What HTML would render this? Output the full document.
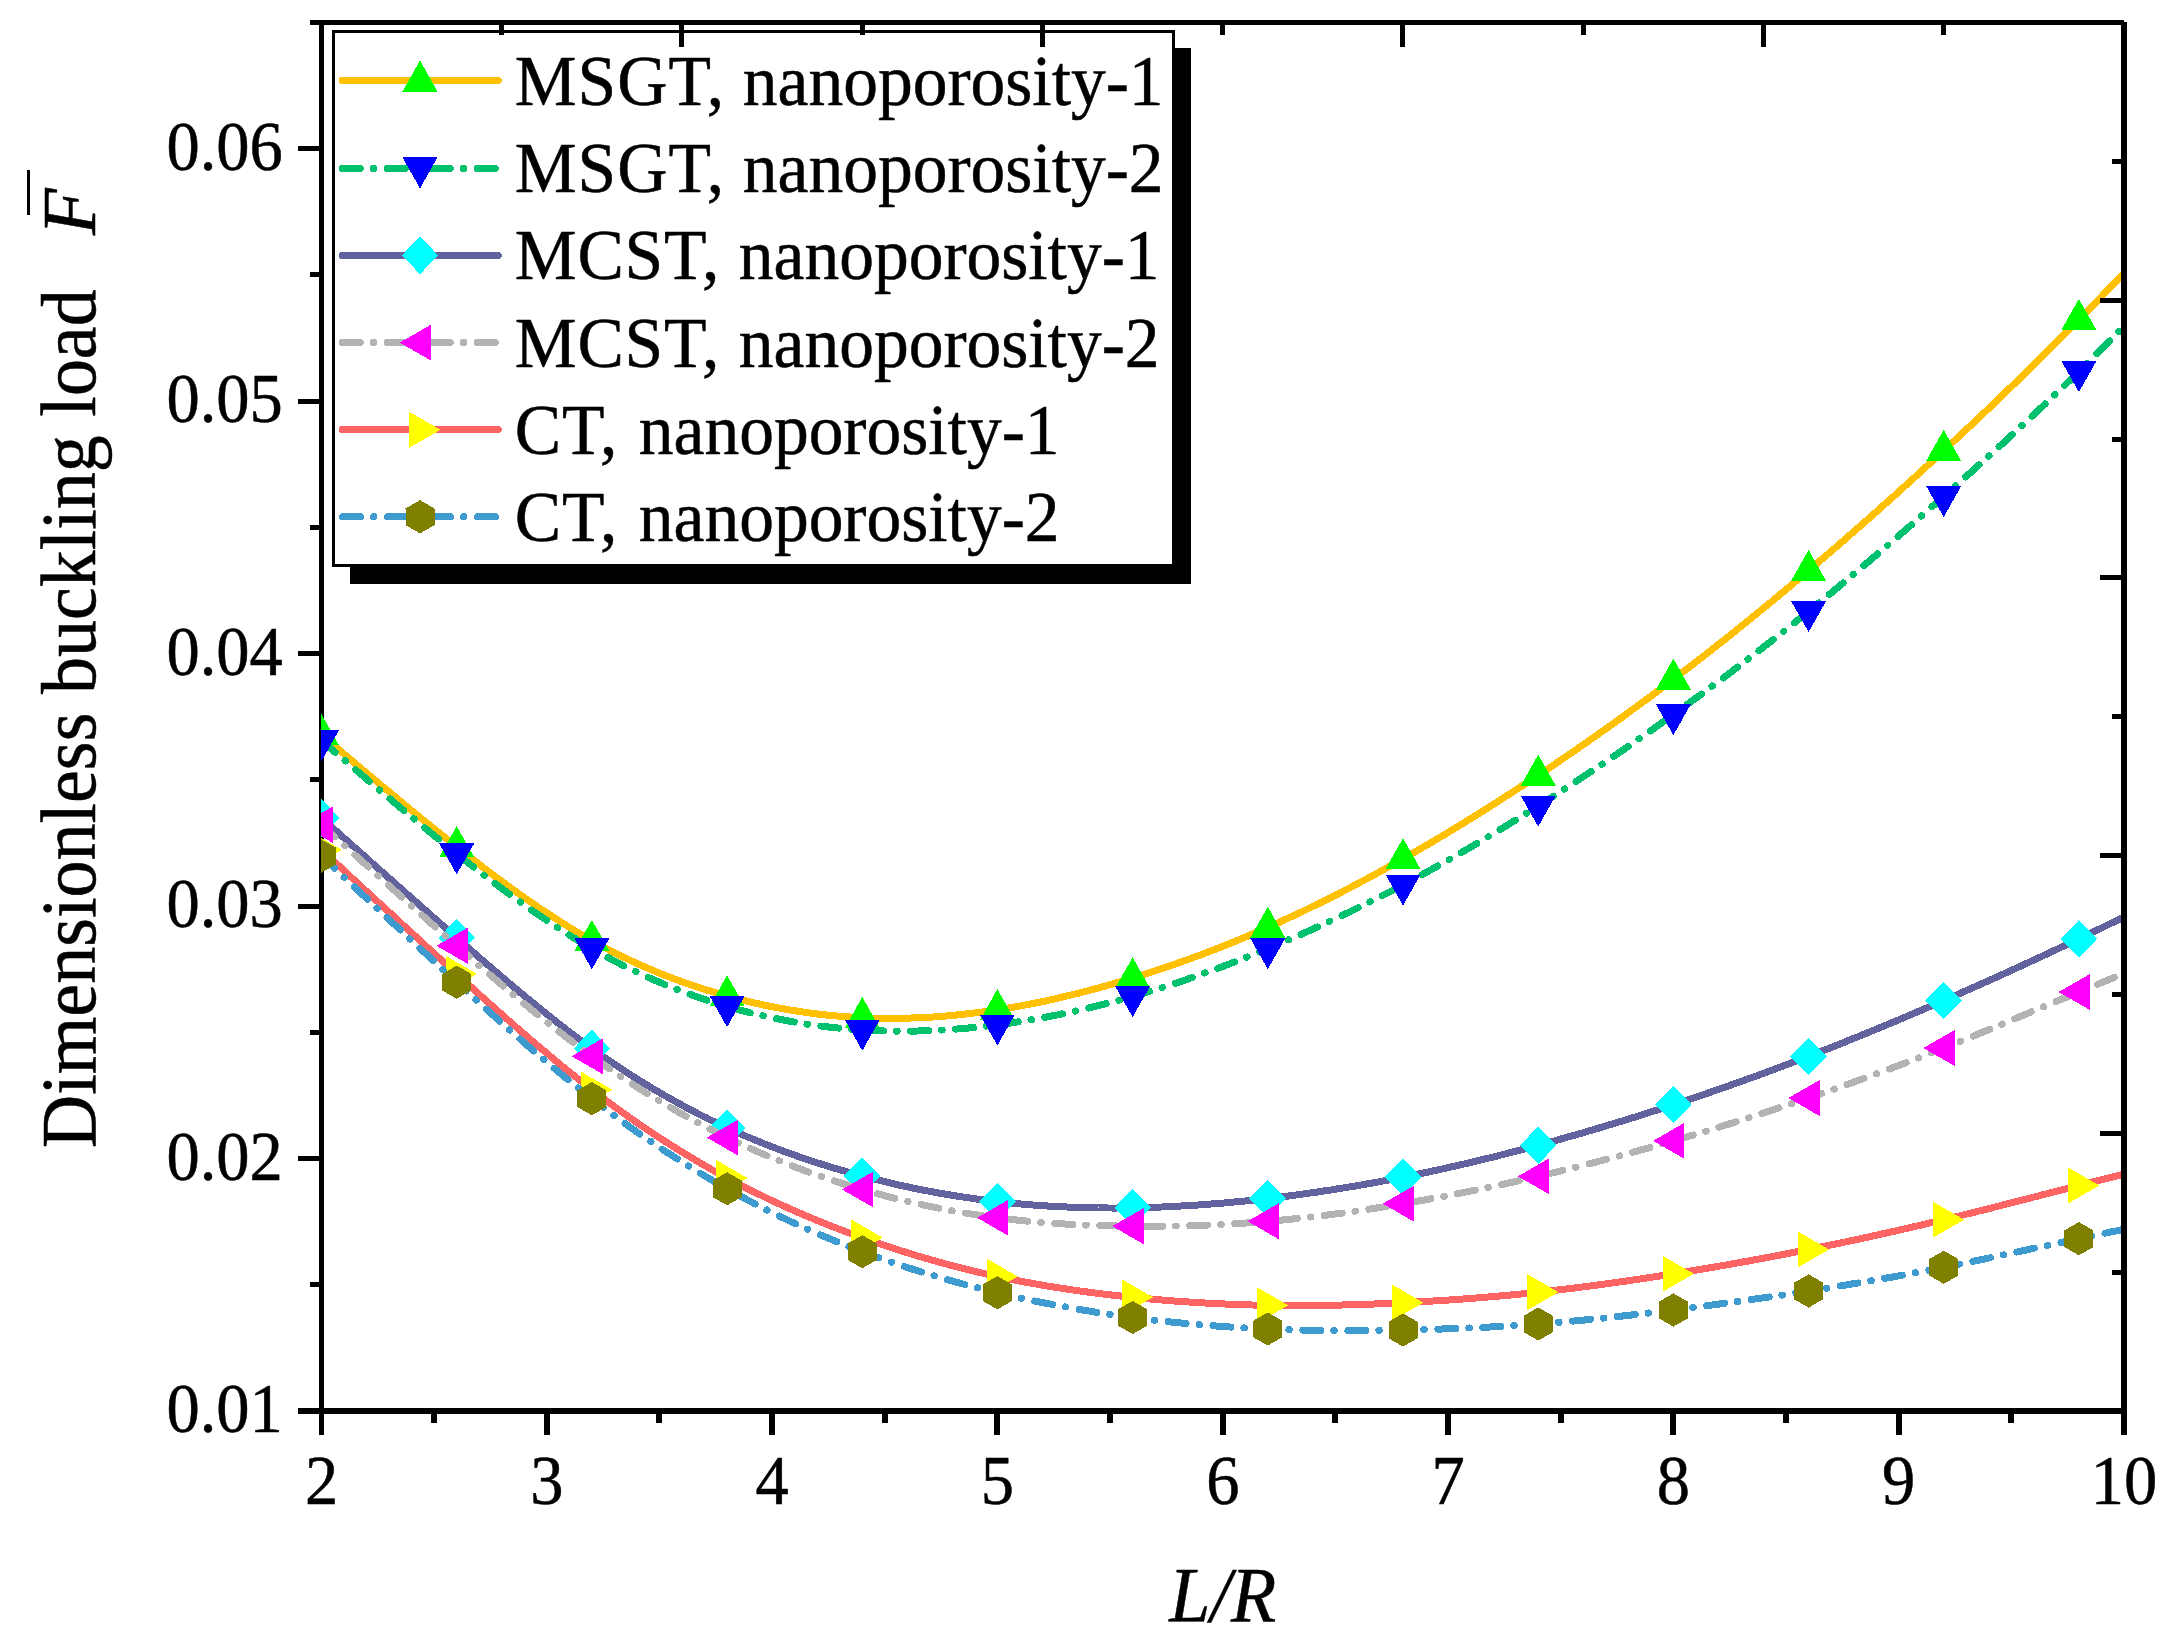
<!DOCTYPE html>
<html lang="en"><head><meta charset="utf-8"><title>Dimensionless buckling load vs L/R</title>
<style>html,body{margin:0;padding:0;background:#fff}svg{display:block}text{font-family:'Liberation Serif',serif;fill:#000;stroke:#000;stroke-width:0.50px;stroke-linejoin:round}</style></head><body>
<svg width="2174" height="1646" viewBox="0 0 2174 1646" shape-rendering="crispEdges">
<rect width="2174" height="1646" fill="#fff"/>
<g id="legend">
<rect x="350" y="48" width="840.6" height="535.8" fill="#000"/>
<rect x="333.5" y="31.5" width="840.0" height="534.0" fill="#fff" stroke="#000" stroke-width="3.0"/>
<line x1="342.4" y1="80.5" x2="498.2" y2="80.5" stroke="#FFC000" stroke-width="7.0" stroke-linecap="round"/>
<polygon points="420.0,60.5 402.5,91.5 437.5,91.5" fill="#00FF00"/>
<text transform="translate(514.8,104.9) scale(1,1.030)" font-size="69.5"><tspan letter-spacing="1.00">MSGT,</tspan> <tspan x="228.0">nanoporosity-1</tspan></text>
<line x1="342.4" y1="168.5" x2="498.2" y2="168.5" stroke="#00C26E" stroke-width="7.0" stroke-linecap="round" stroke-dasharray="18 13 0.5 13.5"/>
<polygon points="420.0,188.4 402.5,157.4 437.5,157.4" fill="#0000FF"/>
<text transform="translate(514.8,192.1) scale(1,1.030)" font-size="69.5"><tspan letter-spacing="1.00">MSGT,</tspan> <tspan x="228.0">nanoporosity-2</tspan></text>
<line x1="342.4" y1="255.5" x2="498.2" y2="255.5" stroke="#62629E" stroke-width="7.0" stroke-linecap="round"/>
<polygon points="420.0,236.7 438.3,255.4 420.0,274.1 401.7,255.4" fill="#00FFFF"/>
<text transform="translate(514.8,279.3) scale(1,1.030)" font-size="69.5"><tspan letter-spacing="0.80">MCST,</tspan> <tspan x="224.0">nanoporosity-1</tspan></text>
<line x1="342.4" y1="342.5" x2="498.2" y2="342.5" stroke="#B3B3B3" stroke-width="7.0" stroke-linecap="round" stroke-dasharray="18 13 0.5 13.5"/>
<polygon points="399.7,342.6 431.0,324.6 431.0,360.6" fill="#FF00FF"/>
<text transform="translate(514.8,366.5) scale(1,1.030)" font-size="69.5"><tspan letter-spacing="0.80">MCST,</tspan> <tspan x="224.0">nanoporosity-2</tspan></text>
<line x1="342.4" y1="429.5" x2="498.2" y2="429.5" stroke="#FF6464" stroke-width="7.0" stroke-linecap="round"/>
<polygon points="440.4,429.8 409.1,411.7 409.1,447.9" fill="#FFFF00"/>
<text transform="translate(514.8,453.7) scale(1,1.030)" font-size="69.5"><tspan letter-spacing="0.80">CT,</tspan> <tspan x="124.0">nanoporosity-1</tspan></text>
<line x1="342.4" y1="516.7" x2="498.2" y2="516.7" stroke="#3E9BD0" stroke-width="7.0" stroke-linecap="round" stroke-dasharray="18 13 0.5 13.5"/>
<polygon points="420.0,500.2 434.5,508.5 434.5,525.1 420.0,533.4 405.5,525.1 405.5,508.5" fill="#808000"/>
<text transform="translate(514.8,540.9) scale(1,1.030)" font-size="69.5"><tspan letter-spacing="0.80">CT,</tspan> <tspan x="124.0">nanoporosity-2</tspan></text>
</g>
<g id="axes-lb" stroke="#000" fill="none">
<line x1="321.50" y1="20.00" x2="321.50" y2="1435.00" stroke-width="5"/>
<line x1="298.00" y1="1411.00" x2="2127.00" y2="1411.00" stroke-width="6"/>
<line x1="434.16" y1="1411.00" x2="434.16" y2="1423.00" stroke-width="6"/>
<line x1="546.81" y1="1411.00" x2="546.81" y2="1435.00" stroke-width="6"/>
<line x1="659.47" y1="1411.00" x2="659.47" y2="1423.00" stroke-width="6"/>
<line x1="772.12" y1="1411.00" x2="772.12" y2="1435.00" stroke-width="6"/>
<line x1="884.78" y1="1411.00" x2="884.78" y2="1423.00" stroke-width="6"/>
<line x1="997.44" y1="1411.00" x2="997.44" y2="1435.00" stroke-width="6"/>
<line x1="1110.09" y1="1411.00" x2="1110.09" y2="1423.00" stroke-width="6"/>
<line x1="1222.75" y1="1411.00" x2="1222.75" y2="1435.00" stroke-width="6"/>
<line x1="1335.41" y1="1411.00" x2="1335.41" y2="1423.00" stroke-width="6"/>
<line x1="1448.06" y1="1411.00" x2="1448.06" y2="1435.00" stroke-width="6"/>
<line x1="1560.72" y1="1411.00" x2="1560.72" y2="1423.00" stroke-width="6"/>
<line x1="1673.38" y1="1411.00" x2="1673.38" y2="1435.00" stroke-width="6"/>
<line x1="1786.03" y1="1411.00" x2="1786.03" y2="1423.00" stroke-width="6"/>
<line x1="1898.69" y1="1411.00" x2="1898.69" y2="1435.00" stroke-width="6"/>
<line x1="2011.34" y1="1411.00" x2="2011.34" y2="1423.00" stroke-width="6"/>
<line x1="310.00" y1="1284.77" x2="321.50" y2="1284.77" stroke-width="5"/>
<line x1="298.00" y1="1158.55" x2="321.50" y2="1158.55" stroke-width="5"/>
<line x1="310.00" y1="1032.32" x2="321.50" y2="1032.32" stroke-width="5"/>
<line x1="298.00" y1="906.09" x2="321.50" y2="906.09" stroke-width="5"/>
<line x1="310.00" y1="779.86" x2="321.50" y2="779.86" stroke-width="5"/>
<line x1="298.00" y1="653.64" x2="321.50" y2="653.64" stroke-width="5"/>
<line x1="310.00" y1="527.41" x2="321.50" y2="527.41" stroke-width="5"/>
<line x1="298.00" y1="401.18" x2="321.50" y2="401.18" stroke-width="5"/>
<line x1="310.00" y1="274.95" x2="321.50" y2="274.95" stroke-width="5"/>
<line x1="298.00" y1="148.73" x2="321.50" y2="148.73" stroke-width="5"/>
</g>
<defs><clipPath id="pc"><rect x="321" y="22.5" width="1803.0" height="1388.5"/></clipPath></defs>
<g id="curves" clip-path="url(#pc)">
<path d="M321.5 735.0 L326.0 738.8 L330.5 742.6 L335.1 746.5 L339.6 750.3 L344.1 754.1 L348.6 757.9 L353.1 761.7 L357.6 765.5 L362.2 769.3 L366.7 773.1 L371.2 776.9 L375.7 780.7 L380.2 784.5 L384.7 788.3 L389.3 792.0 L393.8 795.8 L398.3 799.5 L402.8 803.2 L407.3 807.0 L411.9 810.7 L416.4 814.4 L420.9 818.1 L425.4 821.7 L429.9 825.4 L434.4 829.1 L439.0 832.7 L443.5 836.3 L448.0 839.9 L452.5 843.5 L457.0 847.1 L461.5 850.6 L466.1 854.2 L470.6 857.7 L475.1 861.2 L479.6 864.6 L484.1 868.1 L488.6 871.5 L493.2 874.9 L497.7 878.3 L502.2 881.6 L506.7 884.9 L511.2 888.2 L515.8 891.5 L520.3 894.7 L524.8 897.9 L529.3 901.0 L533.8 904.2 L538.3 907.3 L542.9 910.3 L547.4 913.3 L551.9 916.3 L556.4 919.2 L560.9 922.1 L565.4 924.9 L570.0 927.7 L574.5 930.5 L579.0 933.2 L583.5 935.8 L588.0 938.4 L592.6 941.0 L597.1 943.5 L601.6 945.9 L606.1 948.3 L610.6 950.7 L615.1 953.0 L619.7 955.3 L624.2 957.5 L628.7 959.6 L633.2 961.7 L637.7 963.8 L642.2 965.8 L646.8 967.8 L651.3 969.7 L655.8 971.6 L660.3 973.5 L664.8 975.3 L669.4 977.0 L673.9 978.8 L678.4 980.4 L682.9 982.1 L687.4 983.7 L691.9 985.2 L696.5 986.7 L701.0 988.2 L705.5 989.6 L710.0 991.0 L714.5 992.4 L719.0 993.7 L723.6 995.0 L728.1 996.3 L732.6 997.5 L737.1 998.7 L741.6 999.8 L746.1 1001.0 L750.7 1002.0 L755.2 1003.1 L759.7 1004.1 L764.2 1005.1 L768.7 1006.0 L773.3 1006.9 L777.8 1007.8 L782.3 1008.6 L786.8 1009.4 L791.3 1010.2 L795.8 1010.9 L800.4 1011.6 L804.9 1012.3 L809.4 1012.9 L813.9 1013.5 L818.4 1014.1 L822.9 1014.6 L827.5 1015.1 L832.0 1015.5 L836.5 1016.0 L841.0 1016.3 L845.5 1016.7 L850.1 1017.0 L854.6 1017.3 L859.1 1017.5 L863.6 1017.8 L868.1 1017.9 L872.6 1018.1 L877.2 1018.2 L881.7 1018.3 L886.2 1018.3 L890.7 1018.4 L895.2 1018.3 L899.7 1018.3 L904.3 1018.2 L908.8 1018.1 L913.3 1017.9 L917.8 1017.8 L922.3 1017.6 L926.9 1017.3 L931.4 1017.1 L935.9 1016.8 L940.4 1016.4 L944.9 1016.1 L949.4 1015.7 L954.0 1015.3 L958.5 1014.8 L963.0 1014.3 L967.5 1013.8 L972.0 1013.3 L976.5 1012.7 L981.1 1012.2 L985.6 1011.5 L990.1 1010.9 L994.6 1010.2 L999.1 1009.5 L1003.6 1008.8 L1008.2 1008.1 L1012.7 1007.3 L1017.2 1006.5 L1021.7 1005.7 L1026.2 1004.8 L1030.8 1003.9 L1035.3 1003.0 L1039.8 1002.1 L1044.3 1001.2 L1048.8 1000.2 L1053.3 999.2 L1057.9 998.2 L1062.4 997.1 L1066.9 996.0 L1071.4 994.9 L1075.9 993.8 L1080.4 992.7 L1085.0 991.5 L1089.5 990.4 L1094.0 989.1 L1098.5 987.9 L1103.0 986.7 L1107.6 985.4 L1112.1 984.1 L1116.6 982.8 L1121.1 981.5 L1125.6 980.1 L1130.1 978.8 L1134.7 977.4 L1139.2 976.0 L1143.7 974.5 L1148.2 973.1 L1152.7 971.6 L1157.2 970.1 L1161.8 968.6 L1166.3 967.1 L1170.8 965.5 L1175.3 964.0 L1179.8 962.4 L1184.4 960.8 L1188.9 959.2 L1193.4 957.5 L1197.9 955.8 L1202.4 954.2 L1206.9 952.4 L1211.5 950.7 L1216.0 949.0 L1220.5 947.2 L1225.0 945.4 L1229.5 943.6 L1234.0 941.8 L1238.6 939.9 L1243.1 938.0 L1247.6 936.1 L1252.1 934.2 L1256.6 932.3 L1261.1 930.3 L1265.7 928.3 L1270.2 926.3 L1274.7 924.3 L1279.2 922.3 L1283.7 920.2 L1288.3 918.1 L1292.8 916.0 L1297.3 913.9 L1301.8 911.8 L1306.3 909.6 L1310.8 907.4 L1315.4 905.2 L1319.9 903.0 L1324.4 900.7 L1328.9 898.5 L1333.4 896.2 L1337.9 893.9 L1342.5 891.6 L1347.0 889.3 L1351.5 886.9 L1356.0 884.5 L1360.5 882.1 L1365.1 879.7 L1369.6 877.3 L1374.1 874.9 L1378.6 872.4 L1383.1 869.9 L1387.6 867.4 L1392.2 864.9 L1396.7 862.4 L1401.2 859.8 L1405.7 857.3 L1410.2 854.7 L1414.7 852.1 L1419.3 849.5 L1423.8 846.8 L1428.3 844.2 L1432.8 841.5 L1437.3 838.9 L1441.9 836.2 L1446.4 833.5 L1450.9 830.7 L1455.4 828.0 L1459.9 825.3 L1464.4 822.5 L1469.0 819.7 L1473.5 816.9 L1478.0 814.1 L1482.5 811.3 L1487.0 808.4 L1491.5 805.6 L1496.1 802.7 L1500.6 799.8 L1505.1 796.9 L1509.6 794.0 L1514.1 791.1 L1518.6 788.2 L1523.2 785.2 L1527.7 782.2 L1532.2 779.3 L1536.7 776.3 L1541.2 773.3 L1545.8 770.3 L1550.3 767.2 L1554.8 764.2 L1559.3 761.1 L1563.8 758.0 L1568.3 755.0 L1572.9 751.9 L1577.4 748.8 L1581.9 745.6 L1586.4 742.5 L1590.9 739.3 L1595.4 736.2 L1600.0 733.0 L1604.5 729.8 L1609.0 726.6 L1613.5 723.4 L1618.0 720.1 L1622.6 716.9 L1627.1 713.6 L1631.6 710.3 L1636.1 707.0 L1640.6 703.7 L1645.1 700.4 L1649.7 697.1 L1654.2 693.7 L1658.7 690.3 L1663.2 687.0 L1667.7 683.6 L1672.2 680.2 L1676.8 676.7 L1681.3 673.3 L1685.8 669.8 L1690.3 666.4 L1694.8 662.9 L1699.4 659.4 L1703.9 655.9 L1708.4 652.3 L1712.9 648.8 L1717.4 645.2 L1721.9 641.7 L1726.5 638.1 L1731.0 634.5 L1735.5 630.9 L1740.0 627.2 L1744.5 623.6 L1749.0 620.0 L1753.6 616.3 L1758.1 612.6 L1762.6 608.9 L1767.1 605.2 L1771.6 601.5 L1776.1 597.8 L1780.7 594.0 L1785.2 590.3 L1789.7 586.5 L1794.2 582.7 L1798.7 578.9 L1803.3 575.1 L1807.8 571.3 L1812.3 567.4 L1816.8 563.6 L1821.3 559.7 L1825.8 555.9 L1830.4 552.0 L1834.9 548.1 L1839.4 544.2 L1843.9 540.3 L1848.4 536.3 L1852.9 532.4 L1857.5 528.4 L1862.0 524.5 L1866.5 520.5 L1871.0 516.5 L1875.5 512.5 L1880.1 508.5 L1884.6 504.4 L1889.1 500.4 L1893.6 496.4 L1898.1 492.3 L1902.6 488.2 L1907.2 484.1 L1911.7 480.0 L1916.2 475.9 L1920.7 471.8 L1925.2 467.7 L1929.7 463.5 L1934.3 459.4 L1938.8 455.2 L1943.3 451.0 L1947.8 446.8 L1952.3 442.6 L1956.9 438.4 L1961.4 434.2 L1965.9 429.9 L1970.4 425.7 L1974.9 421.4 L1979.4 417.2 L1984.0 412.9 L1988.5 408.6 L1993.0 404.3 L1997.5 399.9 L2002.0 395.6 L2006.5 391.2 L2011.1 386.9 L2015.6 382.5 L2020.1 378.1 L2024.6 373.7 L2029.1 369.3 L2033.6 364.9 L2038.2 360.4 L2042.7 355.9 L2047.2 351.5 L2051.7 347.0 L2056.2 342.5 L2060.8 337.9 L2065.3 333.4 L2069.8 328.9 L2074.3 324.3 L2078.8 319.7 L2083.3 315.1 L2087.9 310.5 L2092.4 305.9 L2096.9 301.2 L2101.4 296.6 L2105.9 292.0 L2110.4 287.3 L2115.0 282.6 L2119.5 278.0 L2124.0 273.3" fill="none" stroke="#FFC000" stroke-width="7.0" stroke-linecap="round" stroke-linejoin="round"/>
<polygon points="321.5,714.3 304.0,745.3 339.0,745.3" fill="#00FF00"/>
<polygon points="456.7,826.1 439.2,857.1 474.2,857.1" fill="#00FF00"/>
<polygon points="591.9,919.9 574.4,950.9 609.4,950.9" fill="#00FF00"/>
<polygon points="727.1,975.3 709.6,1006.3 744.6,1006.3" fill="#00FF00"/>
<polygon points="862.3,997.0 844.8,1028.0 879.8,1028.0" fill="#00FF00"/>
<polygon points="997.4,989.1 979.9,1020.1 1014.9,1020.1" fill="#00FF00"/>
<polygon points="1132.6,957.3 1115.1,988.3 1150.1,988.3" fill="#00FF00"/>
<polygon points="1267.8,906.7 1250.3,937.7 1285.3,937.7" fill="#00FF00"/>
<polygon points="1403.0,838.1 1385.5,869.1 1420.5,869.1" fill="#00FF00"/>
<polygon points="1538.2,754.6 1520.7,785.6 1555.7,785.6" fill="#00FF00"/>
<polygon points="1673.4,658.6 1655.9,689.6 1690.9,689.6" fill="#00FF00"/>
<polygon points="1808.6,549.9 1791.1,580.9 1826.1,580.9" fill="#00FF00"/>
<polygon points="1943.7,429.9 1926.2,460.9 1961.2,460.9" fill="#00FF00"/>
<polygon points="2078.9,298.9 2061.4,329.9 2096.4,329.9" fill="#00FF00"/>
<path d="M321.5 740.5 L326.0 744.4 L330.5 748.3 L335.1 752.1 L339.6 756.0 L344.1 759.9 L348.6 763.7 L353.1 767.6 L357.6 771.5 L362.2 775.3 L366.7 779.2 L371.2 783.0 L375.7 786.8 L380.2 790.7 L384.7 794.5 L389.3 798.3 L393.8 802.1 L398.3 805.9 L402.8 809.7 L407.3 813.4 L411.9 817.2 L416.4 820.9 L420.9 824.7 L425.4 828.4 L429.9 832.1 L434.4 835.8 L439.0 839.4 L443.5 843.1 L448.0 846.7 L452.5 850.4 L457.0 854.0 L461.5 857.6 L466.1 861.1 L470.6 864.7 L475.1 868.2 L479.6 871.7 L484.1 875.2 L488.6 878.6 L493.2 882.1 L497.7 885.5 L502.2 888.8 L506.7 892.2 L511.2 895.5 L515.8 898.8 L520.3 902.0 L524.8 905.3 L529.3 908.4 L533.8 911.6 L538.3 914.7 L542.9 917.8 L547.4 920.8 L551.9 923.8 L556.4 926.8 L560.9 929.7 L565.4 932.6 L570.0 935.5 L574.5 938.3 L579.0 941.0 L583.5 943.7 L588.0 946.4 L592.6 949.0 L597.1 951.6 L601.6 954.1 L606.1 956.5 L610.6 959.0 L615.1 961.3 L619.7 963.7 L624.2 966.0 L628.7 968.2 L633.2 970.4 L637.7 972.5 L642.2 974.6 L646.8 976.7 L651.3 978.7 L655.8 980.7 L660.3 982.6 L664.8 984.5 L669.4 986.4 L673.9 988.2 L678.4 989.9 L682.9 991.7 L687.4 993.3 L691.9 995.0 L696.5 996.6 L701.0 998.1 L705.5 999.7 L710.0 1001.1 L714.5 1002.6 L719.0 1004.0 L723.6 1005.4 L728.1 1006.7 L732.6 1008.0 L737.1 1009.2 L741.6 1010.5 L746.1 1011.7 L750.7 1012.8 L755.2 1013.9 L759.7 1015.0 L764.2 1016.0 L768.7 1017.0 L773.3 1018.0 L777.8 1018.9 L782.3 1019.8 L786.8 1020.7 L791.3 1021.5 L795.8 1022.3 L800.4 1023.1 L804.9 1023.8 L809.4 1024.5 L813.9 1025.1 L818.4 1025.7 L822.9 1026.3 L827.5 1026.9 L832.0 1027.4 L836.5 1027.9 L841.0 1028.3 L845.5 1028.7 L850.1 1029.1 L854.6 1029.5 L859.1 1029.8 L863.6 1030.1 L868.1 1030.3 L872.6 1030.6 L877.2 1030.7 L881.7 1030.9 L886.2 1031.0 L890.7 1031.1 L895.2 1031.2 L899.7 1031.2 L904.3 1031.2 L908.8 1031.2 L913.3 1031.1 L917.8 1031.0 L922.3 1030.9 L926.9 1030.7 L931.4 1030.6 L935.9 1030.4 L940.4 1030.1 L944.9 1029.9 L949.4 1029.6 L954.0 1029.2 L958.5 1028.9 L963.0 1028.5 L967.5 1028.1 L972.0 1027.7 L976.5 1027.2 L981.1 1026.8 L985.6 1026.2 L990.1 1025.7 L994.6 1025.2 L999.1 1024.6 L1003.6 1024.0 L1008.2 1023.3 L1012.7 1022.7 L1017.2 1022.0 L1021.7 1021.3 L1026.2 1020.6 L1030.8 1019.8 L1035.3 1019.0 L1039.8 1018.2 L1044.3 1017.4 L1048.8 1016.6 L1053.3 1015.7 L1057.9 1014.8 L1062.4 1013.9 L1066.9 1012.9 L1071.4 1011.9 L1075.9 1010.9 L1080.4 1009.9 L1085.0 1008.9 L1089.5 1007.8 L1094.0 1006.7 L1098.5 1005.6 L1103.0 1004.5 L1107.6 1003.3 L1112.1 1002.2 L1116.6 1001.0 L1121.1 999.7 L1125.6 998.5 L1130.1 997.2 L1134.7 995.9 L1139.2 994.6 L1143.7 993.3 L1148.2 991.9 L1152.7 990.5 L1157.2 989.1 L1161.8 987.7 L1166.3 986.2 L1170.8 984.8 L1175.3 983.3 L1179.8 981.8 L1184.4 980.3 L1188.9 978.7 L1193.4 977.1 L1197.9 975.5 L1202.4 973.9 L1206.9 972.3 L1211.5 970.7 L1216.0 969.0 L1220.5 967.3 L1225.0 965.6 L1229.5 963.9 L1234.0 962.2 L1238.6 960.4 L1243.1 958.6 L1247.6 956.8 L1252.1 955.0 L1256.6 953.2 L1261.1 951.3 L1265.7 949.5 L1270.2 947.6 L1274.7 945.7 L1279.2 943.8 L1283.7 941.9 L1288.3 939.9 L1292.8 938.0 L1297.3 936.0 L1301.8 934.0 L1306.3 932.0 L1310.8 930.0 L1315.4 927.9 L1319.9 925.9 L1324.4 923.8 L1328.9 921.7 L1333.4 919.6 L1337.9 917.5 L1342.5 915.3 L1347.0 913.2 L1351.5 911.0 L1356.0 908.8 L1360.5 906.6 L1365.1 904.3 L1369.6 902.1 L1374.1 899.8 L1378.6 897.5 L1383.1 895.2 L1387.6 892.9 L1392.2 890.6 L1396.7 888.2 L1401.2 885.9 L1405.7 883.5 L1410.2 881.1 L1414.7 878.6 L1419.3 876.2 L1423.8 873.7 L1428.3 871.2 L1432.8 868.7 L1437.3 866.2 L1441.9 863.7 L1446.4 861.2 L1450.9 858.6 L1455.4 856.0 L1459.9 853.4 L1464.4 850.8 L1469.0 848.2 L1473.5 845.5 L1478.0 842.9 L1482.5 840.2 L1487.0 837.5 L1491.5 834.8 L1496.1 832.1 L1500.6 829.3 L1505.1 826.6 L1509.6 823.8 L1514.1 821.0 L1518.6 818.2 L1523.2 815.4 L1527.7 812.6 L1532.2 809.8 L1536.7 806.9 L1541.2 804.1 L1545.8 801.2 L1550.3 798.3 L1554.8 795.4 L1559.3 792.5 L1563.8 789.5 L1568.3 786.6 L1572.9 783.6 L1577.4 780.7 L1581.9 777.7 L1586.4 774.7 L1590.9 771.7 L1595.4 768.7 L1600.0 765.6 L1604.5 762.6 L1609.0 759.5 L1613.5 756.4 L1618.0 753.4 L1622.6 750.3 L1627.1 747.1 L1631.6 744.0 L1636.1 740.9 L1640.6 737.7 L1645.1 734.6 L1649.7 731.4 L1654.2 728.2 L1658.7 725.0 L1663.2 721.8 L1667.7 718.6 L1672.2 715.3 L1676.8 712.1 L1681.3 708.8 L1685.8 705.5 L1690.3 702.2 L1694.8 698.9 L1699.4 695.6 L1703.9 692.3 L1708.4 689.0 L1712.9 685.6 L1717.4 682.2 L1721.9 678.9 L1726.5 675.5 L1731.0 672.1 L1735.5 668.6 L1740.0 665.2 L1744.5 661.8 L1749.0 658.3 L1753.6 654.8 L1758.1 651.3 L1762.6 647.8 L1767.1 644.3 L1771.6 640.8 L1776.1 637.3 L1780.7 633.7 L1785.2 630.1 L1789.7 626.5 L1794.2 622.9 L1798.7 619.3 L1803.3 615.7 L1807.8 612.0 L1812.3 608.4 L1816.8 604.7 L1821.3 601.0 L1825.8 597.3 L1830.4 593.6 L1834.9 589.9 L1839.4 586.1 L1843.9 582.4 L1848.4 578.6 L1852.9 574.8 L1857.5 571.0 L1862.0 567.2 L1866.5 563.4 L1871.0 559.5 L1875.5 555.7 L1880.1 551.8 L1884.6 548.0 L1889.1 544.1 L1893.6 540.2 L1898.1 536.3 L1902.6 532.4 L1907.2 528.5 L1911.7 524.5 L1916.2 520.6 L1920.7 516.7 L1925.2 512.7 L1929.7 508.7 L1934.3 504.8 L1938.8 500.8 L1943.3 496.8 L1947.8 492.8 L1952.3 488.8 L1956.9 484.8 L1961.4 480.8 L1965.9 476.7 L1970.4 472.7 L1974.9 468.6 L1979.4 464.6 L1984.0 460.5 L1988.5 456.4 L1993.0 452.3 L1997.5 448.2 L2002.0 444.1 L2006.5 439.9 L2011.1 435.8 L2015.6 431.6 L2020.1 427.4 L2024.6 423.2 L2029.1 419.0 L2033.6 414.8 L2038.2 410.6 L2042.7 406.3 L2047.2 402.0 L2051.7 397.7 L2056.2 393.4 L2060.8 389.1 L2065.3 384.7 L2069.8 380.3 L2074.3 375.9 L2078.8 371.5 L2083.3 367.1 L2087.9 362.6 L2092.4 358.1 L2096.9 353.6 L2101.4 349.1 L2105.9 344.6 L2110.4 340.1 L2115.0 335.6 L2119.5 331.0 L2124.0 326.5" fill="none" stroke="#00C26E" stroke-width="7.0" stroke-linecap="round" stroke-linejoin="round" stroke-dasharray="18 13 0.5 13.5"/>
<polygon points="321.5,761.2 304.0,730.2 339.0,730.2" fill="#0000FF"/>
<polygon points="456.7,874.4 439.2,843.4 474.2,843.4" fill="#0000FF"/>
<polygon points="591.9,969.3 574.4,938.3 609.4,938.3" fill="#0000FF"/>
<polygon points="727.1,1027.1 709.6,996.1 744.6,996.1" fill="#0000FF"/>
<polygon points="862.3,1050.7 844.8,1019.7 879.8,1019.7" fill="#0000FF"/>
<polygon points="997.4,1045.5 979.9,1014.5 1014.9,1014.5" fill="#0000FF"/>
<polygon points="1132.6,1017.2 1115.1,986.2 1150.1,986.2" fill="#0000FF"/>
<polygon points="1267.8,969.3 1250.3,938.3 1285.3,938.3" fill="#0000FF"/>
<polygon points="1403.0,905.6 1385.5,874.6 1420.5,874.6" fill="#0000FF"/>
<polygon points="1538.2,826.7 1520.7,795.7 1555.7,795.7" fill="#0000FF"/>
<polygon points="1673.4,735.2 1655.9,704.2 1690.9,704.2" fill="#0000FF"/>
<polygon points="1808.6,632.1 1791.1,601.1 1826.1,601.1" fill="#0000FF"/>
<polygon points="1943.7,517.1 1926.2,486.1 1961.2,486.1" fill="#0000FF"/>
<polygon points="2078.9,392.1 2061.4,361.1 2096.4,361.1" fill="#0000FF"/>
<path d="M321.5 818.0 L326.0 822.0 L330.5 826.1 L335.1 830.1 L339.6 834.1 L344.1 838.1 L348.6 842.2 L353.1 846.2 L357.6 850.2 L362.2 854.2 L366.7 858.2 L371.2 862.3 L375.7 866.3 L380.2 870.3 L384.7 874.3 L389.3 878.3 L393.8 882.3 L398.3 886.3 L402.8 890.3 L407.3 894.3 L411.9 898.3 L416.4 902.3 L420.9 906.3 L425.4 910.3 L429.9 914.3 L434.4 918.3 L439.0 922.2 L443.5 926.2 L448.0 930.2 L452.5 934.1 L457.0 938.1 L461.5 942.1 L466.1 946.0 L470.6 949.9 L475.1 953.9 L479.6 957.8 L484.1 961.7 L488.6 965.6 L493.2 969.5 L497.7 973.4 L502.2 977.2 L506.7 981.1 L511.2 984.9 L515.8 988.7 L520.3 992.5 L524.8 996.2 L529.3 999.9 L533.8 1003.6 L538.3 1007.3 L542.9 1011.0 L547.4 1014.6 L551.9 1018.2 L556.4 1021.8 L560.9 1025.3 L565.4 1028.8 L570.0 1032.3 L574.5 1035.7 L579.0 1039.1 L583.5 1042.4 L588.0 1045.7 L592.6 1049.0 L597.1 1052.2 L601.6 1055.4 L606.1 1058.5 L610.6 1061.6 L615.1 1064.7 L619.7 1067.7 L624.2 1070.7 L628.7 1073.6 L633.2 1076.5 L637.7 1079.4 L642.2 1082.2 L646.8 1084.9 L651.3 1087.7 L655.8 1090.4 L660.3 1093.0 L664.8 1095.6 L669.4 1098.2 L673.9 1100.7 L678.4 1103.2 L682.9 1105.7 L687.4 1108.1 L691.9 1110.5 L696.5 1112.9 L701.0 1115.2 L705.5 1117.4 L710.0 1119.7 L714.5 1121.9 L719.0 1124.0 L723.6 1126.2 L728.1 1128.3 L732.6 1130.3 L737.1 1132.3 L741.6 1134.3 L746.1 1136.3 L750.7 1138.2 L755.2 1140.1 L759.7 1141.9 L764.2 1143.8 L768.7 1145.5 L773.3 1147.3 L777.8 1149.0 L782.3 1150.7 L786.8 1152.4 L791.3 1154.0 L795.8 1155.6 L800.4 1157.2 L804.9 1158.7 L809.4 1160.3 L813.9 1161.7 L818.4 1163.2 L822.9 1164.6 L827.5 1166.0 L832.0 1167.4 L836.5 1168.8 L841.0 1170.1 L845.5 1171.4 L850.1 1172.7 L854.6 1173.9 L859.1 1175.2 L863.6 1176.4 L868.1 1177.5 L872.6 1178.7 L877.2 1179.8 L881.7 1180.9 L886.2 1182.0 L890.7 1183.1 L895.2 1184.1 L899.7 1185.2 L904.3 1186.2 L908.8 1187.1 L913.3 1188.1 L917.8 1189.0 L922.3 1189.9 L926.9 1190.8 L931.4 1191.6 L935.9 1192.5 L940.4 1193.3 L944.9 1194.1 L949.4 1194.8 L954.0 1195.6 L958.5 1196.3 L963.0 1197.0 L967.5 1197.7 L972.0 1198.3 L976.5 1199.0 L981.1 1199.6 L985.6 1200.2 L990.1 1200.7 L994.6 1201.3 L999.1 1201.8 L1003.6 1202.3 L1008.2 1202.8 L1012.7 1203.2 L1017.2 1203.6 L1021.7 1204.1 L1026.2 1204.4 L1030.8 1204.8 L1035.3 1205.2 L1039.8 1205.5 L1044.3 1205.8 L1048.8 1206.1 L1053.3 1206.3 L1057.9 1206.6 L1062.4 1206.8 L1066.9 1207.0 L1071.4 1207.2 L1075.9 1207.3 L1080.4 1207.5 L1085.0 1207.6 L1089.5 1207.7 L1094.0 1207.8 L1098.5 1207.9 L1103.0 1207.9 L1107.6 1208.0 L1112.1 1208.0 L1116.6 1208.0 L1121.1 1207.9 L1125.6 1207.9 L1130.1 1207.8 L1134.7 1207.8 L1139.2 1207.7 L1143.7 1207.6 L1148.2 1207.4 L1152.7 1207.3 L1157.2 1207.1 L1161.8 1207.0 L1166.3 1206.8 L1170.8 1206.6 L1175.3 1206.3 L1179.8 1206.1 L1184.4 1205.8 L1188.9 1205.6 L1193.4 1205.3 L1197.9 1205.0 L1202.4 1204.7 L1206.9 1204.3 L1211.5 1204.0 L1216.0 1203.6 L1220.5 1203.3 L1225.0 1202.9 L1229.5 1202.5 L1234.0 1202.0 L1238.6 1201.6 L1243.1 1201.2 L1247.6 1200.7 L1252.1 1200.2 L1256.6 1199.8 L1261.1 1199.3 L1265.7 1198.7 L1270.2 1198.2 L1274.7 1197.7 L1279.2 1197.1 L1283.7 1196.6 L1288.3 1196.0 L1292.8 1195.4 L1297.3 1194.8 L1301.8 1194.2 L1306.3 1193.6 L1310.8 1192.9 L1315.4 1192.3 L1319.9 1191.6 L1324.4 1190.9 L1328.9 1190.3 L1333.4 1189.6 L1337.9 1188.8 L1342.5 1188.1 L1347.0 1187.4 L1351.5 1186.6 L1356.0 1185.9 L1360.5 1185.1 L1365.1 1184.3 L1369.6 1183.5 L1374.1 1182.7 L1378.6 1181.9 L1383.1 1181.0 L1387.6 1180.2 L1392.2 1179.3 L1396.7 1178.4 L1401.2 1177.6 L1405.7 1176.7 L1410.2 1175.7 L1414.7 1174.8 L1419.3 1173.9 L1423.8 1172.9 L1428.3 1172.0 L1432.8 1171.0 L1437.3 1170.0 L1441.9 1169.0 L1446.4 1168.0 L1450.9 1167.0 L1455.4 1166.0 L1459.9 1165.0 L1464.4 1163.9 L1469.0 1162.8 L1473.5 1161.8 L1478.0 1160.7 L1482.5 1159.6 L1487.0 1158.5 L1491.5 1157.4 L1496.1 1156.3 L1500.6 1155.1 L1505.1 1154.0 L1509.6 1152.8 L1514.1 1151.7 L1518.6 1150.5 L1523.2 1149.3 L1527.7 1148.1 L1532.2 1146.9 L1536.7 1145.7 L1541.2 1144.5 L1545.8 1143.2 L1550.3 1142.0 L1554.8 1140.8 L1559.3 1139.5 L1563.8 1138.2 L1568.3 1136.9 L1572.9 1135.7 L1577.4 1134.4 L1581.9 1133.1 L1586.4 1131.7 L1590.9 1130.4 L1595.4 1129.1 L1600.0 1127.7 L1604.5 1126.4 L1609.0 1125.0 L1613.5 1123.7 L1618.0 1122.3 L1622.6 1120.9 L1627.1 1119.5 L1631.6 1118.1 L1636.1 1116.7 L1640.6 1115.3 L1645.1 1113.8 L1649.7 1112.4 L1654.2 1110.9 L1658.7 1109.5 L1663.2 1108.0 L1667.7 1106.6 L1672.2 1105.1 L1676.8 1103.6 L1681.3 1102.1 L1685.8 1100.6 L1690.3 1099.1 L1694.8 1097.5 L1699.4 1096.0 L1703.9 1094.5 L1708.4 1092.9 L1712.9 1091.3 L1717.4 1089.8 L1721.9 1088.2 L1726.5 1086.6 L1731.0 1085.0 L1735.5 1083.4 L1740.0 1081.8 L1744.5 1080.2 L1749.0 1078.6 L1753.6 1076.9 L1758.1 1075.3 L1762.6 1073.6 L1767.1 1072.0 L1771.6 1070.3 L1776.1 1068.6 L1780.7 1066.9 L1785.2 1065.2 L1789.7 1063.5 L1794.2 1061.8 L1798.7 1060.1 L1803.3 1058.3 L1807.8 1056.6 L1812.3 1054.9 L1816.8 1053.1 L1821.3 1051.3 L1825.8 1049.6 L1830.4 1047.8 L1834.9 1046.0 L1839.4 1044.2 L1843.9 1042.4 L1848.4 1040.5 L1852.9 1038.7 L1857.5 1036.9 L1862.0 1035.0 L1866.5 1033.2 L1871.0 1031.3 L1875.5 1029.5 L1880.1 1027.6 L1884.6 1025.7 L1889.1 1023.8 L1893.6 1022.0 L1898.1 1020.1 L1902.6 1018.1 L1907.2 1016.2 L1911.7 1014.3 L1916.2 1012.4 L1920.7 1010.5 L1925.2 1008.5 L1929.7 1006.6 L1934.3 1004.6 L1938.8 1002.7 L1943.3 1000.7 L1947.8 998.7 L1952.3 996.8 L1956.9 994.8 L1961.4 992.8 L1965.9 990.8 L1970.4 988.8 L1974.9 986.8 L1979.4 984.8 L1984.0 982.8 L1988.5 980.7 L1993.0 978.7 L1997.5 976.7 L2002.0 974.6 L2006.5 972.6 L2011.1 970.5 L2015.6 968.4 L2020.1 966.4 L2024.6 964.3 L2029.1 962.2 L2033.6 960.1 L2038.2 958.0 L2042.7 955.9 L2047.2 953.8 L2051.7 951.7 L2056.2 949.6 L2060.8 947.4 L2065.3 945.3 L2069.8 943.2 L2074.3 941.0 L2078.8 938.9 L2083.3 936.7 L2087.9 934.5 L2092.4 932.3 L2096.9 930.2 L2101.4 928.0 L2105.9 925.8 L2110.4 923.6 L2115.0 921.4 L2119.5 919.2 L2124.0 917.0" fill="none" stroke="#62629E" stroke-width="7.0" stroke-linecap="round" stroke-linejoin="round"/>
<polygon points="321.5,799.3 339.8,818.0 321.5,836.7 303.2,818.0" fill="#00FFFF"/>
<polygon points="456.7,919.1 475.0,937.8 456.7,956.5 438.4,937.8" fill="#00FFFF"/>
<polygon points="591.9,1029.8 610.2,1048.5 591.9,1067.2 573.6,1048.5" fill="#00FFFF"/>
<polygon points="727.1,1109.1 745.4,1127.8 727.1,1146.5 708.8,1127.8" fill="#00FFFF"/>
<polygon points="862.3,1157.3 880.6,1176.0 862.3,1194.7 844.0,1176.0" fill="#00FFFF"/>
<polygon points="997.4,1182.9 1015.7,1201.6 997.4,1220.3 979.1,1201.6" fill="#00FFFF"/>
<polygon points="1132.6,1189.1 1150.9,1207.8 1132.6,1226.5 1114.3,1207.8" fill="#00FFFF"/>
<polygon points="1267.8,1179.8 1286.1,1198.5 1267.8,1217.2 1249.5,1198.5" fill="#00FFFF"/>
<polygon points="1403.0,1158.5 1421.3,1177.2 1403.0,1195.9 1384.7,1177.2" fill="#00FFFF"/>
<polygon points="1538.2,1126.6 1556.5,1145.3 1538.2,1164.0 1519.9,1145.3" fill="#00FFFF"/>
<polygon points="1673.4,1086.0 1691.7,1104.7 1673.4,1123.4 1655.1,1104.7" fill="#00FFFF"/>
<polygon points="1808.6,1037.6 1826.9,1056.3 1808.6,1075.0 1790.3,1056.3" fill="#00FFFF"/>
<polygon points="1943.7,981.8 1962.0,1000.5 1943.7,1019.2 1925.4,1000.5" fill="#00FFFF"/>
<polygon points="2078.9,920.1 2097.2,938.8 2078.9,957.5 2060.6,938.8" fill="#00FFFF"/>
<path d="M321.5 824.7 L326.0 828.8 L330.5 832.9 L335.1 837.0 L339.6 841.0 L344.1 845.1 L348.6 849.2 L353.1 853.3 L357.6 857.4 L362.2 861.5 L366.7 865.5 L371.2 869.6 L375.7 873.7 L380.2 877.7 L384.7 881.8 L389.3 885.9 L393.8 889.9 L398.3 894.0 L402.8 898.0 L407.3 902.0 L411.9 906.1 L416.4 910.1 L420.9 914.1 L425.4 918.2 L429.9 922.2 L434.4 926.2 L439.0 930.2 L443.5 934.2 L448.0 938.2 L452.5 942.1 L457.0 946.1 L461.5 950.1 L466.1 954.0 L470.6 958.0 L475.1 961.9 L479.6 965.8 L484.1 969.7 L488.6 973.6 L493.2 977.5 L497.7 981.3 L502.2 985.2 L506.7 989.0 L511.2 992.8 L515.8 996.6 L520.3 1000.3 L524.8 1004.1 L529.3 1007.8 L533.8 1011.5 L538.3 1015.2 L542.9 1018.8 L547.4 1022.4 L551.9 1026.0 L556.4 1029.5 L560.9 1033.1 L565.4 1036.6 L570.0 1040.0 L574.5 1043.4 L579.0 1046.8 L583.5 1050.2 L588.0 1053.5 L592.6 1056.8 L597.1 1060.0 L601.6 1063.2 L606.1 1066.4 L610.6 1069.5 L615.1 1072.6 L619.7 1075.7 L624.2 1078.7 L628.7 1081.7 L633.2 1084.6 L637.7 1087.5 L642.2 1090.4 L646.8 1093.2 L651.3 1096.0 L655.8 1098.8 L660.3 1101.5 L664.8 1104.2 L669.4 1106.8 L673.9 1109.4 L678.4 1112.0 L682.9 1114.6 L687.4 1117.1 L691.9 1119.5 L696.5 1122.0 L701.0 1124.4 L705.5 1126.7 L710.0 1129.1 L714.5 1131.4 L719.0 1133.7 L723.6 1135.9 L728.1 1138.1 L732.6 1140.3 L737.1 1142.4 L741.6 1144.5 L746.1 1146.6 L750.7 1148.6 L755.2 1150.6 L759.7 1152.6 L764.2 1154.5 L768.7 1156.4 L773.3 1158.3 L777.8 1160.2 L782.3 1162.0 L786.8 1163.8 L791.3 1165.5 L795.8 1167.3 L800.4 1169.0 L804.9 1170.7 L809.4 1172.3 L813.9 1173.9 L818.4 1175.5 L822.9 1177.1 L827.5 1178.6 L832.0 1180.1 L836.5 1181.6 L841.0 1183.0 L845.5 1184.5 L850.1 1185.9 L854.6 1187.2 L859.1 1188.6 L863.6 1189.9 L868.1 1191.2 L872.6 1192.5 L877.2 1193.7 L881.7 1194.9 L886.2 1196.1 L890.7 1197.3 L895.2 1198.4 L899.7 1199.6 L904.3 1200.7 L908.8 1201.7 L913.3 1202.8 L917.8 1203.8 L922.3 1204.8 L926.9 1205.8 L931.4 1206.7 L935.9 1207.6 L940.4 1208.5 L944.9 1209.4 L949.4 1210.3 L954.0 1211.1 L958.5 1211.9 L963.0 1212.7 L967.5 1213.4 L972.0 1214.2 L976.5 1214.9 L981.1 1215.5 L985.6 1216.2 L990.1 1216.8 L994.6 1217.4 L999.1 1218.0 L1003.6 1218.6 L1008.2 1219.1 L1012.7 1219.6 L1017.2 1220.1 L1021.7 1220.6 L1026.2 1221.0 L1030.8 1221.5 L1035.3 1221.9 L1039.8 1222.3 L1044.3 1222.6 L1048.8 1223.0 L1053.3 1223.3 L1057.9 1223.6 L1062.4 1223.9 L1066.9 1224.1 L1071.4 1224.4 L1075.9 1224.6 L1080.4 1224.8 L1085.0 1225.0 L1089.5 1225.2 L1094.0 1225.4 L1098.5 1225.5 L1103.0 1225.7 L1107.6 1225.8 L1112.1 1225.9 L1116.6 1226.0 L1121.1 1226.1 L1125.6 1226.1 L1130.1 1226.2 L1134.7 1226.2 L1139.2 1226.2 L1143.7 1226.3 L1148.2 1226.3 L1152.7 1226.2 L1157.2 1226.2 L1161.8 1226.2 L1166.3 1226.1 L1170.8 1226.1 L1175.3 1226.0 L1179.8 1225.9 L1184.4 1225.8 L1188.9 1225.7 L1193.4 1225.5 L1197.9 1225.4 L1202.4 1225.2 L1206.9 1225.1 L1211.5 1224.9 L1216.0 1224.7 L1220.5 1224.5 L1225.0 1224.2 L1229.5 1224.0 L1234.0 1223.7 L1238.6 1223.4 L1243.1 1223.2 L1247.6 1222.9 L1252.1 1222.5 L1256.6 1222.2 L1261.1 1221.8 L1265.7 1221.5 L1270.2 1221.1 L1274.7 1220.7 L1279.2 1220.3 L1283.7 1219.9 L1288.3 1219.4 L1292.8 1219.0 L1297.3 1218.5 L1301.8 1218.0 L1306.3 1217.5 L1310.8 1217.0 L1315.4 1216.5 L1319.9 1215.9 L1324.4 1215.4 L1328.9 1214.8 L1333.4 1214.2 L1337.9 1213.6 L1342.5 1213.0 L1347.0 1212.4 L1351.5 1211.7 L1356.0 1211.1 L1360.5 1210.4 L1365.1 1209.8 L1369.6 1209.1 L1374.1 1208.4 L1378.6 1207.7 L1383.1 1207.0 L1387.6 1206.3 L1392.2 1205.5 L1396.7 1204.8 L1401.2 1204.0 L1405.7 1203.2 L1410.2 1202.5 L1414.7 1201.7 L1419.3 1200.9 L1423.8 1200.1 L1428.3 1199.2 L1432.8 1198.4 L1437.3 1197.6 L1441.9 1196.7 L1446.4 1195.9 L1450.9 1195.0 L1455.4 1194.1 L1459.9 1193.2 L1464.4 1192.3 L1469.0 1191.4 L1473.5 1190.5 L1478.0 1189.6 L1482.5 1188.6 L1487.0 1187.7 L1491.5 1186.7 L1496.1 1185.8 L1500.6 1184.8 L1505.1 1183.8 L1509.6 1182.8 L1514.1 1181.8 L1518.6 1180.8 L1523.2 1179.8 L1527.7 1178.7 L1532.2 1177.7 L1536.7 1176.6 L1541.2 1175.6 L1545.8 1174.5 L1550.3 1173.4 L1554.8 1172.4 L1559.3 1171.3 L1563.8 1170.2 L1568.3 1169.0 L1572.9 1167.9 L1577.4 1166.8 L1581.9 1165.7 L1586.4 1164.5 L1590.9 1163.4 L1595.4 1162.2 L1600.0 1161.0 L1604.5 1159.8 L1609.0 1158.7 L1613.5 1157.5 L1618.0 1156.3 L1622.6 1155.0 L1627.1 1153.8 L1631.6 1152.6 L1636.1 1151.3 L1640.6 1150.1 L1645.1 1148.8 L1649.7 1147.6 L1654.2 1146.3 L1658.7 1145.0 L1663.2 1143.7 L1667.7 1142.4 L1672.2 1141.1 L1676.8 1139.8 L1681.3 1138.5 L1685.8 1137.2 L1690.3 1135.8 L1694.8 1134.5 L1699.4 1133.1 L1703.9 1131.8 L1708.4 1130.4 L1712.9 1129.0 L1717.4 1127.6 L1721.9 1126.2 L1726.5 1124.8 L1731.0 1123.4 L1735.5 1122.0 L1740.0 1120.6 L1744.5 1119.2 L1749.0 1117.7 L1753.6 1116.3 L1758.1 1114.8 L1762.6 1113.3 L1767.1 1111.9 L1771.6 1110.4 L1776.1 1108.9 L1780.7 1107.4 L1785.2 1105.9 L1789.7 1104.4 L1794.2 1102.9 L1798.7 1101.3 L1803.3 1099.8 L1807.8 1098.3 L1812.3 1096.7 L1816.8 1095.2 L1821.3 1093.6 L1825.8 1092.0 L1830.4 1090.4 L1834.9 1088.9 L1839.4 1087.3 L1843.9 1085.7 L1848.4 1084.0 L1852.9 1082.4 L1857.5 1080.8 L1862.0 1079.1 L1866.5 1077.5 L1871.0 1075.8 L1875.5 1074.2 L1880.1 1072.5 L1884.6 1070.8 L1889.1 1069.1 L1893.6 1067.4 L1898.1 1065.7 L1902.6 1064.0 L1907.2 1062.3 L1911.7 1060.6 L1916.2 1058.8 L1920.7 1057.1 L1925.2 1055.3 L1929.7 1053.5 L1934.3 1051.8 L1938.8 1050.0 L1943.3 1048.2 L1947.8 1046.4 L1952.3 1044.6 L1956.9 1042.7 L1961.4 1040.9 L1965.9 1039.1 L1970.4 1037.2 L1974.9 1035.4 L1979.4 1033.5 L1984.0 1031.6 L1988.5 1029.8 L1993.0 1027.9 L1997.5 1026.0 L2002.0 1024.1 L2006.5 1022.3 L2011.1 1020.4 L2015.6 1018.5 L2020.1 1016.6 L2024.6 1014.7 L2029.1 1012.8 L2033.6 1010.9 L2038.2 1009.0 L2042.7 1007.1 L2047.2 1005.2 L2051.7 1003.3 L2056.2 1001.4 L2060.8 999.6 L2065.3 997.7 L2069.8 995.8 L2074.3 993.9 L2078.8 992.0 L2083.3 990.2 L2087.9 988.3 L2092.4 986.5 L2096.9 984.6 L2101.4 982.7 L2105.9 980.9 L2110.4 979.0 L2115.0 977.2 L2119.5 975.3 L2124.0 973.5" fill="none" stroke="#B3B3B3" stroke-width="7.0" stroke-linecap="round" stroke-linejoin="round" stroke-dasharray="18 13 0.5 13.5"/>
<polygon points="301.2,824.7 332.5,806.7 332.5,842.7" fill="#FF00FF"/>
<polygon points="436.4,945.8 467.7,927.8 467.7,963.8" fill="#FF00FF"/>
<polygon points="571.6,1056.3 602.9,1038.3 602.9,1074.3" fill="#FF00FF"/>
<polygon points="706.8,1137.6 738.1,1119.6 738.1,1155.6" fill="#FF00FF"/>
<polygon points="842.0,1189.5 873.3,1171.5 873.3,1207.5" fill="#FF00FF"/>
<polygon points="977.1,1217.8 1008.4,1199.8 1008.4,1235.8" fill="#FF00FF"/>
<polygon points="1112.3,1226.2 1143.6,1208.2 1143.6,1244.2" fill="#FF00FF"/>
<polygon points="1247.5,1221.3 1278.8,1203.3 1278.8,1239.3" fill="#FF00FF"/>
<polygon points="1382.7,1203.7 1414.0,1185.7 1414.0,1221.7" fill="#FF00FF"/>
<polygon points="1517.9,1176.3 1549.2,1158.3 1549.2,1194.3" fill="#FF00FF"/>
<polygon points="1653.1,1140.8 1684.4,1122.8 1684.4,1158.8" fill="#FF00FF"/>
<polygon points="1788.3,1098.0 1819.6,1080.0 1819.6,1116.0" fill="#FF00FF"/>
<polygon points="1923.4,1048.0 1954.7,1030.0 1954.7,1066.0" fill="#FF00FF"/>
<polygon points="2058.6,992.0 2089.9,974.0 2089.9,1010.0" fill="#FF00FF"/>
<path d="M321.5 849.8 L326.0 854.0 L330.5 858.2 L335.1 862.3 L339.6 866.5 L344.1 870.7 L348.6 874.9 L353.1 879.0 L357.6 883.2 L362.2 887.4 L366.7 891.5 L371.2 895.7 L375.7 899.9 L380.2 904.0 L384.7 908.2 L389.3 912.3 L393.8 916.5 L398.3 920.7 L402.8 924.8 L407.3 929.0 L411.9 933.1 L416.4 937.2 L420.9 941.4 L425.4 945.5 L429.9 949.6 L434.4 953.8 L439.0 957.9 L443.5 962.0 L448.0 966.1 L452.5 970.2 L457.0 974.3 L461.5 978.4 L466.1 982.5 L470.6 986.6 L475.1 990.6 L479.6 994.7 L484.1 998.8 L488.6 1002.8 L493.2 1006.8 L497.7 1010.9 L502.2 1014.9 L506.7 1018.8 L511.2 1022.8 L515.8 1026.8 L520.3 1030.7 L524.8 1034.6 L529.3 1038.5 L533.8 1042.4 L538.3 1046.2 L542.9 1050.0 L547.4 1053.8 L551.9 1057.6 L556.4 1061.4 L560.9 1065.1 L565.4 1068.8 L570.0 1072.4 L574.5 1076.0 L579.0 1079.6 L583.5 1083.2 L588.0 1086.7 L592.6 1090.2 L597.1 1093.7 L601.6 1097.1 L606.1 1100.5 L610.6 1103.8 L615.1 1107.1 L619.7 1110.4 L624.2 1113.7 L628.7 1116.9 L633.2 1120.0 L637.7 1123.2 L642.2 1126.3 L646.8 1129.3 L651.3 1132.4 L655.8 1135.3 L660.3 1138.3 L664.8 1141.2 L669.4 1144.1 L673.9 1147.0 L678.4 1149.8 L682.9 1152.6 L687.4 1155.3 L691.9 1158.0 L696.5 1160.7 L701.0 1163.4 L705.5 1166.0 L710.0 1168.6 L714.5 1171.1 L719.0 1173.6 L723.6 1176.1 L728.1 1178.5 L732.6 1181.0 L737.1 1183.3 L741.6 1185.7 L746.1 1188.0 L750.7 1190.3 L755.2 1192.5 L759.7 1194.7 L764.2 1196.9 L768.7 1199.1 L773.3 1201.2 L777.8 1203.3 L782.3 1205.4 L786.8 1207.4 L791.3 1209.4 L795.8 1211.4 L800.4 1213.4 L804.9 1215.3 L809.4 1217.2 L813.9 1219.1 L818.4 1221.0 L822.9 1222.8 L827.5 1224.6 L832.0 1226.4 L836.5 1228.1 L841.0 1229.9 L845.5 1231.6 L850.1 1233.3 L854.6 1234.9 L859.1 1236.6 L863.6 1238.2 L868.1 1239.8 L872.6 1241.4 L877.2 1242.9 L881.7 1244.5 L886.2 1246.0 L890.7 1247.5 L895.2 1248.9 L899.7 1250.4 L904.3 1251.8 L908.8 1253.2 L913.3 1254.6 L917.8 1256.0 L922.3 1257.3 L926.9 1258.6 L931.4 1259.9 L935.9 1261.2 L940.4 1262.5 L944.9 1263.7 L949.4 1264.9 L954.0 1266.1 L958.5 1267.3 L963.0 1268.4 L967.5 1269.6 L972.0 1270.7 L976.5 1271.8 L981.1 1272.8 L985.6 1273.9 L990.1 1274.9 L994.6 1275.9 L999.1 1276.9 L1003.6 1277.8 L1008.2 1278.8 L1012.7 1279.7 L1017.2 1280.6 L1021.7 1281.4 L1026.2 1282.3 L1030.8 1283.1 L1035.3 1283.9 L1039.8 1284.7 L1044.3 1285.5 L1048.8 1286.3 L1053.3 1287.0 L1057.9 1287.7 L1062.4 1288.4 L1066.9 1289.1 L1071.4 1289.8 L1075.9 1290.4 L1080.4 1291.1 L1085.0 1291.7 L1089.5 1292.3 L1094.0 1292.9 L1098.5 1293.4 L1103.0 1294.0 L1107.6 1294.5 L1112.1 1295.1 L1116.6 1295.6 L1121.1 1296.1 L1125.6 1296.6 L1130.1 1297.0 L1134.7 1297.5 L1139.2 1298.0 L1143.7 1298.4 L1148.2 1298.8 L1152.7 1299.2 L1157.2 1299.6 L1161.8 1300.0 L1166.3 1300.4 L1170.8 1300.7 L1175.3 1301.1 L1179.8 1301.4 L1184.4 1301.7 L1188.9 1302.0 L1193.4 1302.3 L1197.9 1302.6 L1202.4 1302.9 L1206.9 1303.1 L1211.5 1303.4 L1216.0 1303.6 L1220.5 1303.8 L1225.0 1304.0 L1229.5 1304.2 L1234.0 1304.4 L1238.6 1304.5 L1243.1 1304.7 L1247.6 1304.8 L1252.1 1305.0 L1256.6 1305.1 L1261.1 1305.2 L1265.7 1305.3 L1270.2 1305.3 L1274.7 1305.4 L1279.2 1305.5 L1283.7 1305.5 L1288.3 1305.5 L1292.8 1305.5 L1297.3 1305.5 L1301.8 1305.5 L1306.3 1305.5 L1310.8 1305.5 L1315.4 1305.4 L1319.9 1305.4 L1324.4 1305.3 L1328.9 1305.3 L1333.4 1305.2 L1337.9 1305.1 L1342.5 1305.0 L1347.0 1304.9 L1351.5 1304.7 L1356.0 1304.6 L1360.5 1304.5 L1365.1 1304.3 L1369.6 1304.2 L1374.1 1304.0 L1378.6 1303.8 L1383.1 1303.6 L1387.6 1303.4 L1392.2 1303.2 L1396.7 1303.0 L1401.2 1302.8 L1405.7 1302.6 L1410.2 1302.3 L1414.7 1302.1 L1419.3 1301.8 L1423.8 1301.6 L1428.3 1301.3 L1432.8 1301.0 L1437.3 1300.8 L1441.9 1300.5 L1446.4 1300.2 L1450.9 1299.9 L1455.4 1299.5 L1459.9 1299.2 L1464.4 1298.9 L1469.0 1298.6 L1473.5 1298.2 L1478.0 1297.8 L1482.5 1297.5 L1487.0 1297.1 L1491.5 1296.7 L1496.1 1296.3 L1500.6 1295.9 L1505.1 1295.5 L1509.6 1295.1 L1514.1 1294.7 L1518.6 1294.2 L1523.2 1293.8 L1527.7 1293.3 L1532.2 1292.8 L1536.7 1292.4 L1541.2 1291.9 L1545.8 1291.4 L1550.3 1290.9 L1554.8 1290.3 L1559.3 1289.8 L1563.8 1289.3 L1568.3 1288.7 L1572.9 1288.2 L1577.4 1287.6 L1581.9 1287.0 L1586.4 1286.5 L1590.9 1285.9 L1595.4 1285.3 L1600.0 1284.7 L1604.5 1284.1 L1609.0 1283.4 L1613.5 1282.8 L1618.0 1282.2 L1622.6 1281.5 L1627.1 1280.9 L1631.6 1280.2 L1636.1 1279.5 L1640.6 1278.9 L1645.1 1278.2 L1649.7 1277.5 L1654.2 1276.8 L1658.7 1276.1 L1663.2 1275.4 L1667.7 1274.7 L1672.2 1274.0 L1676.8 1273.3 L1681.3 1272.5 L1685.8 1271.8 L1690.3 1271.0 L1694.8 1270.3 L1699.4 1269.5 L1703.9 1268.8 L1708.4 1268.0 L1712.9 1267.3 L1717.4 1266.5 L1721.9 1265.7 L1726.5 1264.9 L1731.0 1264.1 L1735.5 1263.3 L1740.0 1262.5 L1744.5 1261.7 L1749.0 1260.9 L1753.6 1260.0 L1758.1 1259.2 L1762.6 1258.4 L1767.1 1257.5 L1771.6 1256.7 L1776.1 1255.8 L1780.7 1255.0 L1785.2 1254.1 L1789.7 1253.2 L1794.2 1252.3 L1798.7 1251.4 L1803.3 1250.6 L1807.8 1249.7 L1812.3 1248.8 L1816.8 1247.8 L1821.3 1246.9 L1825.8 1246.0 L1830.4 1245.1 L1834.9 1244.1 L1839.4 1243.2 L1843.9 1242.2 L1848.4 1241.3 L1852.9 1240.3 L1857.5 1239.4 L1862.0 1238.4 L1866.5 1237.4 L1871.0 1236.4 L1875.5 1235.4 L1880.1 1234.4 L1884.6 1233.4 L1889.1 1232.4 L1893.6 1231.4 L1898.1 1230.4 L1902.6 1229.3 L1907.2 1228.3 L1911.7 1227.3 L1916.2 1226.2 L1920.7 1225.2 L1925.2 1224.1 L1929.7 1223.0 L1934.3 1222.0 L1938.8 1220.9 L1943.3 1219.8 L1947.8 1218.7 L1952.3 1217.6 L1956.9 1216.5 L1961.4 1215.4 L1965.9 1214.3 L1970.4 1213.2 L1974.9 1212.1 L1979.4 1210.9 L1984.0 1209.8 L1988.5 1208.7 L1993.0 1207.5 L1997.5 1206.4 L2002.0 1205.2 L2006.5 1204.1 L2011.1 1202.9 L2015.6 1201.8 L2020.1 1200.6 L2024.6 1199.5 L2029.1 1198.3 L2033.6 1197.1 L2038.2 1196.0 L2042.7 1194.8 L2047.2 1193.7 L2051.7 1192.5 L2056.2 1191.3 L2060.8 1190.2 L2065.3 1189.0 L2069.8 1187.8 L2074.3 1186.7 L2078.8 1185.5 L2083.3 1184.4 L2087.9 1183.2 L2092.4 1182.1 L2096.9 1180.9 L2101.4 1179.8 L2105.9 1178.6 L2110.4 1177.5 L2115.0 1176.3 L2119.5 1175.2 L2124.0 1174.0" fill="none" stroke="#FF6464" stroke-width="7.0" stroke-linecap="round" stroke-linejoin="round"/>
<polygon points="341.9,849.8 310.6,831.7 310.6,867.9" fill="#FFFF00"/>
<polygon points="477.1,974.0 445.8,955.9 445.8,992.1" fill="#FFFF00"/>
<polygon points="612.3,1089.7 581.0,1071.6 581.0,1107.8" fill="#FFFF00"/>
<polygon points="747.5,1178.0 716.2,1159.9 716.2,1196.1" fill="#FFFF00"/>
<polygon points="882.7,1237.7 851.4,1219.6 851.4,1255.8" fill="#FFFF00"/>
<polygon points="1017.8,1276.5 986.5,1258.4 986.5,1294.6" fill="#FFFF00"/>
<polygon points="1153.0,1297.3 1121.7,1279.2 1121.7,1315.4" fill="#FFFF00"/>
<polygon points="1288.2,1305.3 1256.9,1287.2 1256.9,1323.4" fill="#FFFF00"/>
<polygon points="1423.4,1302.7 1392.1,1284.6 1392.1,1320.8" fill="#FFFF00"/>
<polygon points="1558.6,1292.2 1527.3,1274.1 1527.3,1310.3" fill="#FFFF00"/>
<polygon points="1693.8,1273.8 1662.5,1255.7 1662.5,1291.9" fill="#FFFF00"/>
<polygon points="1829.0,1249.5 1797.7,1231.4 1797.7,1267.6" fill="#FFFF00"/>
<polygon points="1964.1,1219.7 1932.8,1201.6 1932.8,1237.8" fill="#FFFF00"/>
<polygon points="2099.3,1185.5 2068.0,1167.4 2068.0,1203.6" fill="#FFFF00"/>
<path d="M321.5 856.0 L326.0 860.3 L330.5 864.5 L335.1 868.8 L339.6 873.0 L344.1 877.3 L348.6 881.5 L353.1 885.8 L357.6 890.0 L362.2 894.3 L366.7 898.5 L371.2 902.7 L375.7 907.0 L380.2 911.2 L384.7 915.5 L389.3 919.7 L393.8 923.9 L398.3 928.1 L402.8 932.3 L407.3 936.6 L411.9 940.8 L416.4 945.0 L420.9 949.2 L425.4 953.4 L429.9 957.5 L434.4 961.7 L439.0 965.9 L443.5 970.1 L448.0 974.2 L452.5 978.4 L457.0 982.5 L461.5 986.6 L466.1 990.8 L470.6 994.9 L475.1 999.0 L479.6 1003.1 L484.1 1007.2 L488.6 1011.3 L493.2 1015.3 L497.7 1019.4 L502.2 1023.4 L506.7 1027.4 L511.2 1031.4 L515.8 1035.4 L520.3 1039.3 L524.8 1043.3 L529.3 1047.2 L533.8 1051.1 L538.3 1054.9 L542.9 1058.8 L547.4 1062.6 L551.9 1066.4 L556.4 1070.2 L560.9 1073.9 L565.4 1077.6 L570.0 1081.3 L574.5 1084.9 L579.0 1088.6 L583.5 1092.1 L588.0 1095.7 L592.6 1099.2 L597.1 1102.7 L601.6 1106.2 L606.1 1109.6 L610.6 1113.0 L615.1 1116.3 L619.7 1119.6 L624.2 1122.9 L628.7 1126.2 L633.2 1129.4 L637.7 1132.6 L642.2 1135.7 L646.8 1138.8 L651.3 1141.9 L655.8 1145.0 L660.3 1148.0 L664.8 1151.0 L669.4 1153.9 L673.9 1156.8 L678.4 1159.7 L682.9 1162.6 L687.4 1165.4 L691.9 1168.2 L696.5 1170.9 L701.0 1173.7 L705.5 1176.4 L710.0 1179.0 L714.5 1181.7 L719.0 1184.3 L723.6 1186.8 L728.1 1189.4 L732.6 1191.9 L737.1 1194.4 L741.6 1196.8 L746.1 1199.2 L750.7 1201.6 L755.2 1204.0 L759.7 1206.3 L764.2 1208.6 L768.7 1210.9 L773.3 1213.1 L777.8 1215.3 L782.3 1217.5 L786.8 1219.7 L791.3 1221.8 L795.8 1223.9 L800.4 1226.0 L804.9 1228.0 L809.4 1230.0 L813.9 1232.0 L818.4 1234.0 L822.9 1235.9 L827.5 1237.8 L832.0 1239.7 L836.5 1241.6 L841.0 1243.4 L845.5 1245.2 L850.1 1247.0 L854.6 1248.8 L859.1 1250.5 L863.6 1252.2 L868.1 1253.9 L872.6 1255.6 L877.2 1257.2 L881.7 1258.8 L886.2 1260.4 L890.7 1261.9 L895.2 1263.5 L899.7 1265.0 L904.3 1266.5 L908.8 1268.0 L913.3 1269.4 L917.8 1270.8 L922.3 1272.3 L926.9 1273.6 L931.4 1275.0 L935.9 1276.3 L940.4 1277.7 L944.9 1279.0 L949.4 1280.3 L954.0 1281.5 L958.5 1282.8 L963.0 1284.0 L967.5 1285.2 L972.0 1286.4 L976.5 1287.5 L981.1 1288.7 L985.6 1289.8 L990.1 1290.9 L994.6 1292.0 L999.1 1293.1 L1003.6 1294.2 L1008.2 1295.2 L1012.7 1296.2 L1017.2 1297.2 L1021.7 1298.2 L1026.2 1299.2 L1030.8 1300.2 L1035.3 1301.1 L1039.8 1302.0 L1044.3 1302.9 L1048.8 1303.8 L1053.3 1304.7 L1057.9 1305.6 L1062.4 1306.4 L1066.9 1307.2 L1071.4 1308.0 L1075.9 1308.8 L1080.4 1309.6 L1085.0 1310.4 L1089.5 1311.1 L1094.0 1311.9 L1098.5 1312.6 L1103.0 1313.3 L1107.6 1314.0 L1112.1 1314.6 L1116.6 1315.3 L1121.1 1315.9 L1125.6 1316.6 L1130.1 1317.2 L1134.7 1317.8 L1139.2 1318.3 L1143.7 1318.9 L1148.2 1319.5 L1152.7 1320.0 L1157.2 1320.5 L1161.8 1321.0 L1166.3 1321.5 L1170.8 1322.0 L1175.3 1322.5 L1179.8 1322.9 L1184.4 1323.4 L1188.9 1323.8 L1193.4 1324.2 L1197.9 1324.6 L1202.4 1325.0 L1206.9 1325.3 L1211.5 1325.7 L1216.0 1326.0 L1220.5 1326.4 L1225.0 1326.7 L1229.5 1327.0 L1234.0 1327.3 L1238.6 1327.5 L1243.1 1327.8 L1247.6 1328.0 L1252.1 1328.3 L1256.6 1328.5 L1261.1 1328.7 L1265.7 1328.9 L1270.2 1329.1 L1274.7 1329.3 L1279.2 1329.4 L1283.7 1329.6 L1288.3 1329.7 L1292.8 1329.8 L1297.3 1330.0 L1301.8 1330.1 L1306.3 1330.2 L1310.8 1330.2 L1315.4 1330.3 L1319.9 1330.4 L1324.4 1330.4 L1328.9 1330.5 L1333.4 1330.5 L1337.9 1330.5 L1342.5 1330.6 L1347.0 1330.6 L1351.5 1330.6 L1356.0 1330.5 L1360.5 1330.5 L1365.1 1330.5 L1369.6 1330.5 L1374.1 1330.4 L1378.6 1330.4 L1383.1 1330.3 L1387.6 1330.3 L1392.2 1330.2 L1396.7 1330.1 L1401.2 1330.0 L1405.7 1329.9 L1410.2 1329.9 L1414.7 1329.8 L1419.3 1329.6 L1423.8 1329.5 L1428.3 1329.4 L1432.8 1329.3 L1437.3 1329.2 L1441.9 1329.0 L1446.4 1328.9 L1450.9 1328.7 L1455.4 1328.5 L1459.9 1328.4 L1464.4 1328.2 L1469.0 1328.0 L1473.5 1327.8 L1478.0 1327.6 L1482.5 1327.4 L1487.0 1327.2 L1491.5 1326.9 L1496.1 1326.7 L1500.6 1326.5 L1505.1 1326.2 L1509.6 1325.9 L1514.1 1325.6 L1518.6 1325.4 L1523.2 1325.1 L1527.7 1324.8 L1532.2 1324.4 L1536.7 1324.1 L1541.2 1323.8 L1545.8 1323.4 L1550.3 1323.1 L1554.8 1322.7 L1559.3 1322.3 L1563.8 1321.9 L1568.3 1321.5 L1572.9 1321.1 L1577.4 1320.7 L1581.9 1320.3 L1586.4 1319.8 L1590.9 1319.4 L1595.4 1318.9 L1600.0 1318.5 L1604.5 1318.0 L1609.0 1317.5 L1613.5 1317.0 L1618.0 1316.5 L1622.6 1316.0 L1627.1 1315.5 L1631.6 1315.0 L1636.1 1314.5 L1640.6 1314.0 L1645.1 1313.4 L1649.7 1312.9 L1654.2 1312.4 L1658.7 1311.8 L1663.2 1311.3 L1667.7 1310.7 L1672.2 1310.1 L1676.8 1309.6 L1681.3 1309.0 L1685.8 1308.4 L1690.3 1307.8 L1694.8 1307.3 L1699.4 1306.7 L1703.9 1306.1 L1708.4 1305.5 L1712.9 1304.9 L1717.4 1304.3 L1721.9 1303.6 L1726.5 1303.0 L1731.0 1302.4 L1735.5 1301.8 L1740.0 1301.2 L1744.5 1300.5 L1749.0 1299.9 L1753.6 1299.2 L1758.1 1298.6 L1762.6 1297.9 L1767.1 1297.3 L1771.6 1296.6 L1776.1 1295.9 L1780.7 1295.3 L1785.2 1294.6 L1789.7 1293.9 L1794.2 1293.2 L1798.7 1292.5 L1803.3 1291.8 L1807.8 1291.1 L1812.3 1290.4 L1816.8 1289.7 L1821.3 1289.0 L1825.8 1288.3 L1830.4 1287.5 L1834.9 1286.8 L1839.4 1286.1 L1843.9 1285.3 L1848.4 1284.6 L1852.9 1283.8 L1857.5 1283.1 L1862.0 1282.3 L1866.5 1281.5 L1871.0 1280.8 L1875.5 1280.0 L1880.1 1279.2 L1884.6 1278.4 L1889.1 1277.6 L1893.6 1276.8 L1898.1 1276.0 L1902.6 1275.1 L1907.2 1274.3 L1911.7 1273.5 L1916.2 1272.6 L1920.7 1271.8 L1925.2 1270.9 L1929.7 1270.0 L1934.3 1269.2 L1938.8 1268.3 L1943.3 1267.4 L1947.8 1266.5 L1952.3 1265.6 L1956.9 1264.7 L1961.4 1263.7 L1965.9 1262.8 L1970.4 1261.9 L1974.9 1261.0 L1979.4 1260.0 L1984.0 1259.1 L1988.5 1258.1 L1993.0 1257.1 L1997.5 1256.2 L2002.0 1255.2 L2006.5 1254.3 L2011.1 1253.3 L2015.6 1252.3 L2020.1 1251.3 L2024.6 1250.4 L2029.1 1249.4 L2033.6 1248.4 L2038.2 1247.4 L2042.7 1246.5 L2047.2 1245.5 L2051.7 1244.5 L2056.2 1243.5 L2060.8 1242.6 L2065.3 1241.6 L2069.8 1240.6 L2074.3 1239.7 L2078.8 1238.7 L2083.3 1237.8 L2087.9 1236.8 L2092.4 1235.9 L2096.9 1234.9 L2101.4 1234.0 L2105.9 1233.0 L2110.4 1232.1 L2115.0 1231.2 L2119.5 1230.2 L2124.0 1229.3" fill="none" stroke="#3E9BD0" stroke-width="7.0" stroke-linecap="round" stroke-linejoin="round" stroke-dasharray="18 13 0.5 13.5"/>
<polygon points="321.5,839.4 336.0,847.7 336.0,864.3 321.5,872.6 307.0,864.3 307.0,847.7" fill="#808000"/>
<polygon points="456.7,965.6 471.2,973.9 471.2,990.5 456.7,998.8 442.2,990.5 442.2,973.9" fill="#808000"/>
<polygon points="591.9,1082.1 606.4,1090.4 606.4,1107.0 591.9,1115.3 577.4,1107.0 577.4,1090.4" fill="#808000"/>
<polygon points="727.1,1172.2 741.6,1180.5 741.6,1197.1 727.1,1205.4 712.6,1197.1 712.6,1180.5" fill="#808000"/>
<polygon points="862.3,1235.1 876.8,1243.4 876.8,1260.0 862.3,1268.3 847.8,1260.0 847.8,1243.4" fill="#808000"/>
<polygon points="997.4,1276.1 1011.9,1284.4 1011.9,1301.0 997.4,1309.3 982.9,1301.0 982.9,1284.4" fill="#808000"/>
<polygon points="1132.6,1300.9 1147.1,1309.2 1147.1,1325.8 1132.6,1334.1 1118.1,1325.8 1118.1,1309.2" fill="#808000"/>
<polygon points="1267.8,1312.4 1282.3,1320.7 1282.3,1337.3 1267.8,1345.6 1253.3,1337.3 1253.3,1320.7" fill="#808000"/>
<polygon points="1403.0,1313.4 1417.5,1321.7 1417.5,1338.3 1403.0,1346.6 1388.5,1338.3 1388.5,1321.7" fill="#808000"/>
<polygon points="1538.2,1307.4 1552.7,1315.7 1552.7,1332.3 1538.2,1340.6 1523.7,1332.3 1523.7,1315.7" fill="#808000"/>
<polygon points="1673.4,1293.4 1687.9,1301.7 1687.9,1318.3 1673.4,1326.6 1658.9,1318.3 1658.9,1301.7" fill="#808000"/>
<polygon points="1808.6,1274.4 1823.1,1282.7 1823.1,1299.3 1808.6,1307.6 1794.1,1299.3 1794.1,1282.7" fill="#808000"/>
<polygon points="1943.7,1250.7 1958.2,1259.0 1958.2,1275.6 1943.7,1283.9 1929.2,1275.6 1929.2,1259.0" fill="#808000"/>
<polygon points="2078.9,1222.1 2093.4,1230.4 2093.4,1247.0 2078.9,1255.3 2064.4,1247.0 2064.4,1230.4" fill="#808000"/>
</g>
<g id="axes-tr" stroke="#000" fill="none">
<line x1="310.00" y1="22.50" x2="2124.00" y2="22.50" stroke-width="5"/>
<line x1="2124.00" y1="22.00" x2="2124.00" y2="1435.00" stroke-width="6"/>
<line x1="501.55" y1="22.50" x2="501.55" y2="35.00" stroke-width="5"/>
<line x1="681.80" y1="22.50" x2="681.80" y2="47.00" stroke-width="5"/>
<line x1="862.05" y1="22.50" x2="862.05" y2="35.00" stroke-width="5"/>
<line x1="1042.30" y1="22.50" x2="1042.30" y2="47.00" stroke-width="5"/>
<line x1="1222.55" y1="22.50" x2="1222.55" y2="35.00" stroke-width="5"/>
<line x1="1402.80" y1="22.50" x2="1402.80" y2="47.00" stroke-width="5"/>
<line x1="1583.05" y1="22.50" x2="1583.05" y2="35.00" stroke-width="5"/>
<line x1="1763.30" y1="22.50" x2="1763.30" y2="47.00" stroke-width="5"/>
<line x1="1943.55" y1="22.50" x2="1943.55" y2="35.00" stroke-width="5"/>
<line x1="2112.00" y1="161.35" x2="2124.00" y2="161.35" stroke-width="5"/>
<line x1="2100.00" y1="300.20" x2="2124.00" y2="300.20" stroke-width="5"/>
<line x1="2112.00" y1="439.05" x2="2124.00" y2="439.05" stroke-width="5"/>
<line x1="2100.00" y1="577.90" x2="2124.00" y2="577.90" stroke-width="5"/>
<line x1="2112.00" y1="716.75" x2="2124.00" y2="716.75" stroke-width="5"/>
<line x1="2100.00" y1="855.60" x2="2124.00" y2="855.60" stroke-width="5"/>
<line x1="2112.00" y1="994.45" x2="2124.00" y2="994.45" stroke-width="5"/>
<line x1="2100.00" y1="1133.30" x2="2124.00" y2="1133.30" stroke-width="5"/>
<line x1="2112.00" y1="1272.15" x2="2124.00" y2="1272.15" stroke-width="5"/>
</g>
<g id="ticklabels" font-size="66.5">
<text transform="translate(321.5,1504.2) scale(1,1.060)" text-anchor="middle">2</text>
<text transform="translate(546.8,1504.2) scale(1,1.060)" text-anchor="middle">3</text>
<text transform="translate(772.1,1504.2) scale(1,1.060)" text-anchor="middle">4</text>
<text transform="translate(997.4,1504.2) scale(1,1.060)" text-anchor="middle">5</text>
<text transform="translate(1222.8,1504.2) scale(1,1.060)" text-anchor="middle">6</text>
<text transform="translate(1448.1,1504.2) scale(1,1.060)" text-anchor="middle">7</text>
<text transform="translate(1673.4,1504.2) scale(1,1.060)" text-anchor="middle">8</text>
<text transform="translate(1898.7,1504.2) scale(1,1.060)" text-anchor="middle">9</text>
<text transform="translate(2124.0,1504.2) scale(1,1.060)" text-anchor="middle">10</text>
<text transform="translate(282.8,1432.0) scale(1,1.060)" text-anchor="end">0.01</text>
<text transform="translate(282.8,1179.5) scale(1,1.060)" text-anchor="end">0.02</text>
<text transform="translate(282.8,927.1) scale(1,1.060)" text-anchor="end">0.03</text>
<text transform="translate(282.8,674.6) scale(1,1.060)" text-anchor="end">0.04</text>
<text transform="translate(282.8,422.2) scale(1,1.060)" text-anchor="end">0.05</text>
<text transform="translate(282.8,169.7) scale(1,1.060)" text-anchor="end">0.06</text>
</g>
<g id="titles" font-size="74.0">
<text transform="translate(1222.8,1620.8) scale(1,1.044)" text-anchor="middle" font-style="italic">L/R</text>
<text transform="translate(94.9,1148.2) rotate(-90) scale(1,1.044)">Dimensionless buckling load</text>
<text transform="translate(95.2,234.9) rotate(-90)" font-size="76.5" font-style="italic">F</text>
<rect x="27" y="170" width="3" height="45" fill="#000"/>
</g>
</svg></body></html>
